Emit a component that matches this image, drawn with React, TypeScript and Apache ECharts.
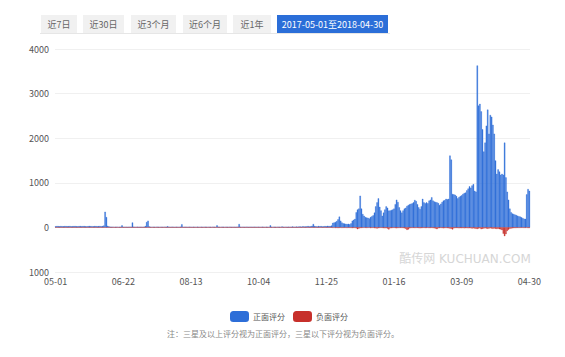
import React, { useEffect, useRef } from "react";
import * as echarts from "echarts";

const FONT = "'Noto Sans CJK SC', 'Noto Sans', sans-serif";

const startDate = "2017-05-01";
const dayCount = 365;

const yTicks = [-1000, 0, 1000, 2000, 3000, 4000];

const seriesNames = ["正面评分", "负面评分"];

const rangeButtons = ["近7日", "近30日", "近3个月", "近6个月", "近1年", "2017-05-01至2018-04-30"];

const positiveValues = [
  25, 30, 28, 22, 30, 26, 24, 30, 28, 25, 27, 30, 22, 26, 28, 30, 25, 24, 28, 30,
  26, 28, 30, 25, 22, 28, 30, 27, 26, 24, 30, 28, 25, 27, 30, 26, 28, 40, 350, 230,
  35, 20, 15, 12, 14, 10, 12, 15, 10, 12, 14, 45, 12, 10, 14, 12, 10, 15, 12, 110,
  14, 12, 10, 15, 12, 14, 10, 12, 15, 30, 120, 150, 20, 12, 10, 14, 12, 10, 15, 12,
  10, 14, 12, 10, 15, 12, 25, 14, 12, 10, 15, 12, 10, 14, 12, 10, 15, 70, 12, 10,
  14, 12, 10, 15, 12, 10, 14, 12, 10, 15, 12, 10, 14, 12, 10, 15, 12, 10, 14, 12,
  10, 15, 12, 10, 45, 14, 12, 10, 15, 12, 10, 14, 12, 10, 15, 12, 10, 14, 12, 10,
  15, 75, 12, 10, 14, 12, 10, 15, 12, 10, 14, 12, 10, 15, 12, 10, 14, 12, 10, 15,
  12, 10, 14, 12, 10, 45, 12, 10, 14, 12, 10, 15, 12, 10, 20, 12, 10, 14, 12, 15,
  12, 14, 18, 15, 12, 16, 14, 18,
  20, 15, 25, 20, 18, 22, 30, 20, 25, 35, 75, 30, 25, 20, 30, 25, 28, 20, 22, 30, 25, 35, 30, 28, 40,
  100, 110, 120, 140, 180, 240, 150, 110, 90, 85, 80, 75, 80, 70, 90, 150, 170, 190, 340, 400,
  420, 710, 420, 300, 260, 230, 220, 215, 200, 230, 250, 270, 330, 470, 560, 650, 460, 380, 260, 330,
  400, 470, 440, 375, 380, 390, 400, 420, 520, 620, 570, 450, 380, 330, 380, 420, 440, 480, 500, 520,
  530, 540, 560, 615, 590, 520, 450, 410, 470, 640, 560, 540, 560, 540, 600, 620, 675, 600, 580, 570,
  560, 545, 500, 530, 570, 600, 610, 640, 630, 640, 1610, 1520, 750, 740, 730, 700, 650, 680, 700, 720,
  750, 770, 780, 830, 870, 920, 890, 940, 970, 820, 800,
  3630, 2730, 2770, 2600, 2200, 1700, 1900, 2280, 2640, 2100, 2520, 2480, 2300, 2100, 1500, 1200, 1300, 1250, 1180, 1200,
  1180, 1900, 1120, 800, 620, 420, 340, 310, 300, 285, 275, 262, 250, 240, 225, 210, 195, 190, 740, 860, 820,
];

const negativeValues = [
  0, 0, 0, 0, 0, 0, 0, 0, 0, 0, 0, 0, 0, 0, 0, 0, 0, 0, 0, 0, 0, 0, 0, 0, 0, 0, 0, 0, 0, 0,
  0, 0, 0, 0, 0, 0, 0, 0, -5, -5, 0, 0, 0, 0, 0, 0, 0, 0, 0, 0, 0, 0, 0, 0, 0, 0, 0, 0, 0, 0,
  0, 0, 0, 0, 0, 0, 0, 0, 0, 0, -5, 0, 0, 0, 0, 0, 0, 0, 0, 0, 0, 0, 0, 0, 0, 0, 0, 0, 0, 0,
  0, 0, 0, 0, 0, 0, 0, 0, 0, 0, 0, 0, 0, 0, 0, 0, 0, 0, 0, 0, 0, 0, 0, 0, 0, 0, 0, 0, 0, 0,
  0, 0, 0, 0, 0, 0, 0, 0, 0, 0, 0, 0, 0, 0, 0, 0, 0, 0, 0, 0, 0, 0, 0, 0, 0, 0, 0, 0, 0, 0,
  0, 0, 0, 0, 0, 0, 0, 0, 0, 0, 0, 0, 0, 0, 0, 0, 0, 0, 0, 0, 0, 0, 0, 0, 0, 0, 0, 0, 0, 0,
  0, 0, 0, 0, 0, 0, 0, 0, 0, 0, 0, 0, 0, 0, 0, 0, 0, 0, 0, 0, 0, 0, 0, 0, 0, 0, 0, 0, 0, 0,
  0, 0, 0,
  -10, -8, -12, -10, -15, -10, -8, -12, -10, -8, -10, -12, -8, -10, -12, -15, -10, -12, -20, -40,
  -25, -15, -12, -10, -8, -10, -12, -10, -8, -15, -12, -10, -15, -20, -25, -15, -12, -10, -12, -15,
  -20, -15, -25, -45, -20, -15, -12, -10, -15, -20, -15, -12, -10, -12, -15, -20, -30, -55, -45, -20,
  -15, -12, -10, -15, -12, -10, -15, -20, -15, -12, -10, -15, -12, -10, -15, -12, -10, -15, -20, -25,
  -40, -20, -15, -12, -15, -20, -15, -12, -15, -20, -25, -30, -45, -20, -15, -12, -15, -20, -15, -18,
  -15, -20, -15, -18, -20, -15, -20, -25, -20, -25, -30, -35, -25, -20, -40, -30, -25, -20, -25, -30,
  -25, -20, -25, -30, -25, -30, -35, -30, -40, -45, -60, -140, -195, -150, -80, -50, -30, -25, -20, -15,
  -15, -12, -10, -12, -10, -8, -10, -12, -10, -8, -15, -12,
];

function buildDates(): string[] {
  const out: string[] = [];
  const d = new Date(startDate + "T00:00:00Z");
  for (let i = 0; i < dayCount; i++) {
    const m = String(d.getUTCMonth() + 1).padStart(2, "0");
    const day = String(d.getUTCDate()).padStart(2, "0");
    out.push(m + "-" + day);
    d.setUTCDate(d.getUTCDate() + 1);
  }
  return out;
}

const buttonBoxes = [
  { x: 41, w: 36 },
  { x: 83, w: 41 },
  { x: 131, w: 45 },
  { x: 183, w: 44 },
  { x: 233, w: 38 },
  { x: 277, w: 111 },
];

const BLUE = "#2d6ed8";
const RED = "#c7302b";

export default function App() {
  const ref = useRef<HTMLDivElement>(null);
  useEffect(() => {
    document.body.style.margin = "0";
    if (!ref.current) return;
    const chart = echarts.init(ref.current, undefined, { renderer: "svg" });
    const dates = buildDates();

    const buttons: any[] = [];
    rangeButtons.forEach((label, i) => {
      const b = buttonBoxes[i];
      const active = i === rangeButtons.length - 1;
      buttons.push({
        type: "rect",
        shape: { x: b.x, y: 15, width: b.w, height: 18 },
        style: { fill: active ? "#2b6ed8" : "#f1f1f1" },
        silent: true,
      });
      buttons.push({
        type: "text",
        x: b.x + b.w / 2,
        y: 24,
        style: {
          text: label,
          fontSize: 9,
          fontFamily: FONT,
          fill: active ? "#ffffff" : "#666666",
          align: "center",
          verticalAlign: "middle",
        },
        silent: true,
      });
    });

    chart.setOption({
      animation: false,
      textStyle: { fontFamily: FONT },
      grid: { left: 55, right: 35, top: 49, bottom: 85, containLabel: false },
      legend: {
        data: seriesNames,
        left: 225,
        top: 306,
        itemWidth: 17,
        itemHeight: 9,
        itemGap: 8,
        icon: "roundRect",
        textStyle: { fontSize: 8, color: "#555", fontFamily: FONT },
      },
      xAxis: {
        type: "category",
        data: dates,
        axisLine: { show: false, onZero: false },
        axisTick: { show: false },
        axisLabel: { interval: 51, fontSize: 9, color: "#555", margin: 5 },
      },
      yAxis: {
        type: "value",
        min: yTicks[0],
        max: yTicks[yTicks.length - 1],
        interval: 1000,
        axisLine: { show: false },
        axisTick: { show: false },
        axisLabel: {
          fontSize: 9,
          color: "#555",
          margin: 6,
          formatter: (v: number) => String(Math.abs(v)),
        },
        splitLine: { lineStyle: { color: "#f0f0f0", width: 1 } },
      },
      series: [
        {
          name: seriesNames[0],
          type: "bar",
          data: positiveValues,
          barCategoryGap: "0%",
          barGap: "-100%",
          itemStyle: { color: BLUE, borderColor: BLUE, borderWidth: 0.35 },
        },
        {
          name: seriesNames[1],
          type: "bar",
          data: negativeValues,
          barCategoryGap: "0%",
          barGap: "-100%",
          itemStyle: { color: RED, borderColor: RED, borderWidth: 0.35 },
        },
      ],
      graphic: [
        ...buttons,
        {
          type: "line",
          shape: { x1: 40, y1: 33.5, x2: 390, y2: 33.5 },
          style: { stroke: "#e6e6e6", lineWidth: 1 },
          silent: true,
        },
        {
          type: "text",
          x: 465,
          y: 259,
          style: {
            text: "酷传网 KUCHUAN.COM",
            fontSize: 12,
            fontFamily: "'DejaVu Sans', " + FONT,
            fill: "#d6d6d6",
            align: "center",
            verticalAlign: "middle",
          },
          silent: true,
        },
        {
          type: "text",
          x: 283,
          y: 333,
          style: {
            text: "注：三星及以上评分视为正面评分，三星以下评分视为负面评分。",
            fontSize: 8,
            fontFamily: FONT,
            fill: "#888888",
            align: "center",
            verticalAlign: "middle",
          },
          silent: true,
        },
      ],
    });
    return () => chart.dispose();
  }, []);
  return <div ref={ref} style={{ width: 565, height: 357 }} />;
}
